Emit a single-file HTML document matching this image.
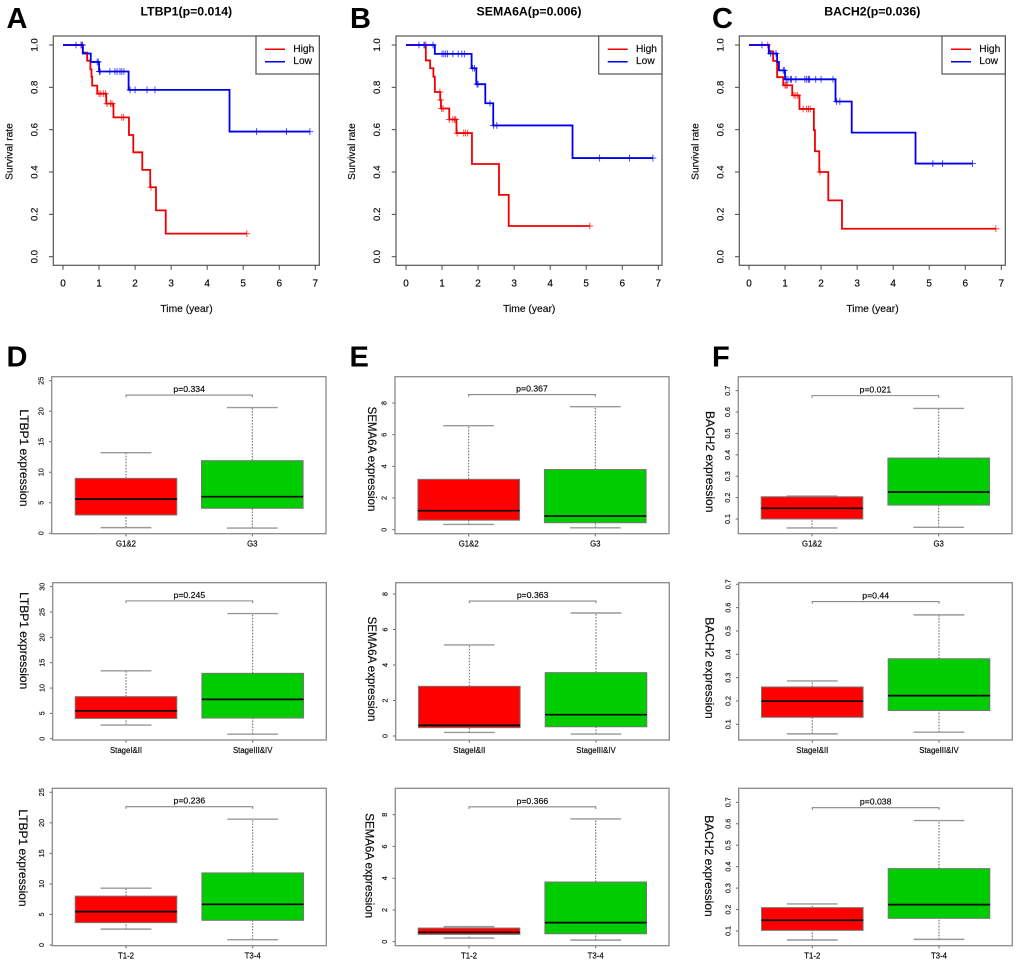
<!DOCTYPE html>
<html lang="en">
<head>
<meta charset="utf-8">
<title>Survival and expression panels</title>
<style>
html,body{margin:0;padding:0;background:#fff;}
svg{display:block;font-family:"Liberation Sans",Arial,sans-serif;filter:blur(.35px);}
.letter{font-size:29px;font-weight:bold;fill:#000;}
.km-title{font-size:12.3px;font-weight:bold;fill:#000;text-anchor:middle;dominant-baseline:central;}
</style>
</head>
<body>
<svg id="figure" xmlns="http://www.w3.org/2000/svg" width="1020" height="966" viewBox="0 0 1020 966">
  <rect width="1020" height="966" fill="#fff"/>
  <text class="letter" x="6.5" y="28">A</text>
  <text class="letter" x="350" y="28">B</text>
  <text class="letter" x="712" y="28">C</text>
  <text class="letter" x="6.5" y="366.5">D</text>
  <text class="letter" x="349.5" y="366.5">E</text>
  <text class="letter" x="712" y="366.5">F</text>
  <text class="km-title" x="186.3" y="11.7">LTBP1(p=0.014)</text>
  <text class="km-title" x="529" y="11.7">SEMA6A(p=0.006)</text>
  <text class="km-title" x="872.3" y="11.7">BACH2(p=0.036)</text>
  <g id="panel-a"></g>
  <g id="panel-b"></g>
  <g id="panel-c"></g>
  <g id="panel-d1"></g>
  <g id="panel-e1"></g>
  <g id="panel-f1"></g>
  <g id="panel-d2"></g>
  <g id="panel-e2"></g>
  <g id="panel-f2"></g>
  <g id="panel-d3"></g>
  <g id="panel-e3"></g>
  <g id="panel-f3"></g>
</svg>
<script>
// ---------- Survival data ----------
const timeTicks = [0, 1, 2, 3, 4, 5, 6, 7];
const survivalTicks = ['0.0', '0.2', '0.4', '0.6', '0.8', '1.0'];
const legendLabels = ['High', 'Low'];

const ltbp1HighTimes = [0.55, 0.67, 0.76, 0.79, 0.81, 0.95, 1.2, 1.4, 1.83, 1.95, 2.2, 2.42, 2.58, 2.85];
const ltbp1HighSurvival = [0.964, 0.926, 0.885, 0.85, 0.808, 0.77, 0.723, 0.658, 0.575, 0.493, 0.41, 0.328, 0.219, 0.109];
const ltbp1HighCensored = [0.52, 1.0, 1.05, 1.12, 1.18, 1.22, 1.32, 1.36, 1.63, 1.68, 2.44, 5.1];
const ltbp1LowTimes = [0.55, 0.77, 1.0, 1.82, 4.62];
const ltbp1LowSurvival = [0.96, 0.92, 0.875, 0.788, 0.591];
const ltbp1LowCensored = [0.36, 0.5, 0.54, 0.95, 0.98, 1.01, 1.03, 1.3, 1.44, 1.5, 1.58, 1.63, 1.69, 1.86, 2.0, 2.33, 2.55, 5.37, 6.2, 6.85];

const sema6aHighTimes = [0.55, 0.67, 0.76, 0.8, 0.95, 0.97, 1.2, 1.4, 1.83, 2.58, 2.85];
const sema6aHighSurvival = [0.927, 0.89, 0.85, 0.778, 0.74, 0.7, 0.648, 0.584, 0.438, 0.292, 0.145];
const sema6aHighCensored = [0.51, 0.94, 0.96, 0.99, 1.03, 1.2, 1.3, 1.35, 1.38, 1.42, 1.6, 1.65, 1.71, 5.1];
const sema6aLowTimes = [0.8, 1.82, 1.95, 2.2, 2.42, 4.62];
const sema6aLowSurvival = [0.958, 0.89, 0.815, 0.725, 0.62, 0.466];
const sema6aLowCensored = [0.36, 0.5, 0.55, 0.75, 1.0, 1.05, 1.1, 1.15, 1.3, 1.45, 1.55, 1.62, 1.85, 1.9, 1.97, 2.0, 2.33, 2.43, 2.52, 5.37, 6.2, 6.85];

const bach2HighTimes = [0.55, 0.67, 0.78, 0.95, 1.2, 1.4, 1.8, 1.83, 1.95, 2.2, 2.58];
const bach2HighSurvival = [0.97, 0.925, 0.848, 0.81, 0.762, 0.698, 0.598, 0.498, 0.4, 0.266, 0.132];
const bach2HighCensored = [0.52, 1.0, 1.03, 1.06, 1.25, 1.3, 1.35, 1.5, 1.6, 1.65, 1.7, 1.97, 6.85];
const bach2LowTimes = [0.55, 0.78, 0.83, 1.0, 2.4, 2.85, 4.62];
const bach2LowSurvival = [0.96, 0.92, 0.88, 0.838, 0.733, 0.586, 0.44];
const bach2LowCensored = [0.36, 0.6, 0.75, 0.95, 0.98, 1.03, 1.08, 1.15, 1.18, 1.3, 1.55, 1.6, 1.65, 1.68, 1.85, 2.0, 2.33, 2.43, 2.52, 5.1, 5.37, 6.2];

// ---------- Expression data: [lower whisker, Q1, median, Q3, upper whisker] ----------
const gradeCategories = ['G1&2', 'G3'];
const stageCategories = ['StageI&II', 'StageIII&IV'];
const tCategories = ['T1-2', 'T3-4'];
const ltbp1Ticks25 = ['0', '5', '10', '15', '20', '25'];
const ltbp1Ticks30 = ['0', '5', '10', '15', '20', '25', '30'];
const sema6aTicks = ['0', '2', '4', '6', '8'];
const bach2Ticks = ['0.1', '0.2', '0.3', '0.4', '0.5', '0.6', '0.7'];

const ltbp1GradeLow = [0.93, 3.0, 5.6, 9.0, 13.2];
const ltbp1GradeHigh = [0.85, 4.1, 6.0, 11.9, 20.6];
const sema6aGradeLow = [0.33, 0.6, 1.2, 3.18, 6.57];
const sema6aGradeHigh = [0.12, 0.44, 0.86, 3.8, 7.77];
const bach2GradeLow = [0.058, 0.1, 0.15, 0.204, 0.207];
const bach2GradeHigh = [0.061, 0.165, 0.226, 0.385, 0.617];

const ltbp1StageLow = [2.7, 4.0, 5.5, 8.3, 13.4];
const ltbp1StageHigh = [0.9, 4.08, 7.76, 12.9, 24.7];
const sema6aStageLow = [0.2, 0.47, 0.6, 2.8, 5.13];
const sema6aStageHigh = [0.11, 0.52, 1.2, 3.57, 6.93];
const bach2StageLow = [0.059, 0.13, 0.199, 0.26, 0.286];
const bach2StageHigh = [0.066, 0.159, 0.223, 0.381, 0.569];

const ltbp1TLow = [2.6, 3.66, 5.46, 8.0, 9.3];
const ltbp1THigh = [0.87, 4.04, 6.66, 11.8, 20.6];
const sema6aTLow = [0.23, 0.46, 0.59, 0.86, 0.95];
const sema6aTHigh = [0.1, 0.5, 1.2, 3.76, 7.73];
const bach2TLow = [0.058, 0.103, 0.15, 0.209, 0.226];
const bach2THigh = [0.061, 0.159, 0.223, 0.391, 0.615];

const NS = 'http://www.w3.org/2000/svg';
function make(tag, parent, attrs, text) {
  const n = document.createElementNS(NS, tag);
  for (const k in attrs) n.setAttribute(k, attrs[k]);
  if (text !== undefined) {
    n.textContent = text;
    n.setAttribute('stroke', '#000');
    n.setAttribute('stroke-width', '0.18');
  }
  parent.appendChild(n);
  return n;
}
function linear(v0, p0, v1, p1) {
  return v => p0 + (Number(v) - v0) * (p1 - p0) / (v1 - v0);
}
function survivalAt(t, times, surv) {
  let s = 1;
  for (let i = 0; i < times.length; i++) if (t >= times[i]) s = surv[i];
  return s;
}

function drawCurve(g, x, y, times, surv, censored, color, lastTime) {
  let d = 'M' + x(0) + ' ' + y(1);
  times.forEach((t, i) => { d += 'H' + x(t) + 'V' + y(surv[i]); });
  d += 'H' + x(lastTime);
  const line = make('path', g, { d: d, fill: 'none', stroke: color, 'stroke-width': 1.8 });
  
  
  censored.forEach(t => {
    const s = survivalAt(t, times, surv);
    const px = x(t), py = y(s);
    const mark = make('path', g, {
      d: 'M' + (px - 3.4) + ' ' + py + 'H' + (px + 3.4) + 'M' + px + ' ' + (py - 3.4) + 'V' + (py + 3.4),
      fill: 'none', stroke: color, 'stroke-width': 1, 'stroke-opacity': 0.7
    });
    
    
  });
}

function drawSurvival(id, left, x0Pos, hi, lo) {
  const g = document.getElementById(id);
  const frameL = left, frameR = left + 266, frameT = 36, frameB = 265.3;
  const x = linear(0, x0Pos, 7, x0Pos + 252.3);
  const y = linear(0, 256.7, 1, 45);
  const ink = '#444';

  timeTicks.forEach(t => {
    const tick = make('line', g, { x1: x(t), x2: x(t), y1: frameB, y2: frameB + 4.5, stroke: ink, 'stroke-width': 1 });
    
    
    const label = make('text', g, { x: x(t), y: 284, 'text-anchor': 'middle', 'dominant-baseline': 'central', 'font-size': 10, fill: '#111' }, t);
    
    
  });
  survivalTicks.forEach(v => {
    const tick = make('line', g, { x1: frameL - 4.3, x2: frameL, y1: y(v), y2: y(v), stroke: ink, 'stroke-width': 1 });
    
    
    const lx = frameL - 18.3;
    const label = make('text', g, { x: lx, y: y(v), transform: 'rotate(-90 ' + lx + ' ' + y(v) + ')', 'text-anchor': 'middle', 'dominant-baseline': 'central', 'font-size': 9.6, fill: '#111' }, v);
    
    
  });

  const xTitle = make('text', g, { x: (frameL + frameR) / 2 + 0.2, y: 309.5, 'text-anchor': 'middle', 'dominant-baseline': 'central', 'font-size': 10.3, fill: '#111' }, 'Time (year)');
  
  
  const ytx = frameL - 43.3;
  const yTitle = make('text', g, { x: ytx, y: 151.5, transform: 'rotate(-90 ' + ytx + ' 151.5)', 'text-anchor': 'middle', 'dominant-baseline': 'central', 'font-size': 10.2, fill: '#111' }, 'Survival rate');
  
  

  drawCurve(g, x, y, hi.times, hi.surv, hi.censored, '#f00000', hi.end);
  drawCurve(g, x, y, lo.times, lo.surv, lo.censored, '#0000f0', lo.end);

  const frame = make('rect', g, { x: frameL, y: frameT, width: frameR - frameL, height: frameB - frameT, fill: 'none', stroke: '#555', 'stroke-width': 1.2 });
  
  

  const legendX = frameR - 63.3;
  const legend = make('rect', g, { x: legendX, y: frameT, width: 63.3, height: 38, fill: '#fff', stroke: '#555', 'stroke-width': 1.2 });
  
  
  const colors = ['#f00000', '#0000f0'];
  legendLabels.forEach((name, i) => {
    const ly = 49.3 + i * 12.4;
    const key = make('line', g, { x1: legendX + 9, x2: legendX + 29, y1: ly, y2: ly, stroke: colors[i], 'stroke-width': 1.5 });
    
    
    const label = make('text', g, { x: legendX + 37.3, y: ly, 'dominant-baseline': 'central', 'font-size': 10.2, fill: '#111' }, name);
    
    
  });
}

drawSurvival('panel-a', 53.3, 63,
  { times: ltbp1HighTimes, surv: ltbp1HighSurvival, censored: ltbp1HighCensored, end: 5.1 },
  { times: ltbp1LowTimes, surv: ltbp1LowSurvival, censored: ltbp1LowCensored, end: 6.85 });
drawSurvival('panel-b', 396, 406,
  { times: sema6aHighTimes, surv: sema6aHighSurvival, censored: sema6aHighCensored, end: 5.1 },
  { times: sema6aLowTimes, surv: sema6aLowSurvival, censored: sema6aLowCensored, end: 6.85 });
drawSurvival('panel-c', 739.3, 749,
  { times: bach2HighTimes, surv: bach2HighSurvival, censored: bach2HighCensored, end: 6.85 },
  { times: bach2LowTimes, surv: bach2LowSurvival, censored: bach2LowCensored, end: 6.2 });

function drawBox(g, gx, y, stats, color) {
  const halfBox = 50.8, halfCap = 25.4;
  const whisker = make('path', g, {
    d: 'M' + gx + ' ' + y(stats[0]) + 'V' + y(stats[1]) + 'M' + gx + ' ' + y(stats[3]) + 'V' + y(stats[4]),
    fill: 'none', stroke: '#666', 'stroke-width': 1, 'stroke-dasharray': '1.6 1.4'
  });
  
  
  const caps = make('path', g, {
    d: 'M' + (gx - halfCap) + ' ' + y(stats[0]) + 'H' + (gx + halfCap) + 'M' + (gx - halfCap) + ' ' + y(stats[4]) + 'H' + (gx + halfCap),
    fill: 'none', stroke: '#999', 'stroke-width': 1.4
  });
  
  
  const box = make('rect', g, {
    x: gx - halfBox, y: y(stats[3]), width: halfBox * 2, height: y(stats[1]) - y(stats[3]),
    fill: color, stroke: '#777', 'stroke-width': 1
  });
  
  
  const median = make('line', g, { x1: gx - halfBox, x2: gx + halfBox, y1: y(stats[2]), y2: y(stats[2]), stroke: '#000', 'stroke-width': 1.7 });
  
  
}

function drawExpression(cfg) {
  const g = document.getElementById(cfg.id);
  const y = linear(cfg.v0, cfg.p0, cfg.v1, cfg.p1);
  const gx1 = cfg.g1, gx2 = cfg.g2;
  const ink = '#666';

  cfg.ticks.forEach(v => {
    const tick = make('line', g, { x1: cfg.left - 2.7, x2: cfg.left, y1: y(v), y2: y(v), stroke: ink, 'stroke-width': 1 });
    
    
    const lx = cfg.left - 10.8;
    const label = make('text', g, { x: lx, y: y(v), transform: 'rotate(-90 ' + lx + ' ' + y(v) + ')', 'text-anchor': 'middle', 'dominant-baseline': 'central', 'font-size': 7.2, fill: '#222' }, v);
    
    
  });

  const yTitle = make('text', g, { x: cfg.titleX, y: cfg.titleY, transform: 'rotate(90 ' + cfg.titleX + ' ' + cfg.titleY + ')', 'text-anchor': 'middle', 'dominant-baseline': 'central', 'font-size': cfg.titleSize, fill: '#111' }, cfg.title);
  
  

  [gx1, gx2].forEach((gx, i) => {
    const tick = make('line', g, { x1: gx, x2: gx, y1: cfg.bottom, y2: cfg.bottom + 2.7, stroke: ink, 'stroke-width': 1 });
    
    
    const label = make('text', g, { x: gx, y: cfg.bottom + 10.3, 'text-anchor': 'middle', 'dominant-baseline': 'central', 'font-size': 7.8, fill: '#111' }, cfg.categories[i]);
    
    
  });

  drawBox(g, gx1, y, cfg.low, '#ff0000');
  drawBox(g, gx2, y, cfg.high, '#00cd00');

  const by = y(cfg.bracket);
  const bracket = make('path', g, { d: 'M' + gx1 + ' ' + (by + 2.2) + 'V' + by + 'H' + gx2 + 'V' + (by + 2.2), fill: 'none', stroke: '#888', 'stroke-width': 1.1 });
  
  
  const pLabel = make('text', g, { x: (gx1 + gx2) / 2, y: by - 6, 'text-anchor': 'middle', 'dominant-baseline': 'central', 'font-size': 8.7, fill: '#111' }, cfg.p);
  
  

  const frame = make('rect', g, { x: cfg.left, y: cfg.top, width: cfg.right - cfg.left, height: cfg.bottom - cfg.top, fill: 'none', stroke: '#8a8a8a', 'stroke-width': 1.3 });
  
  
}

drawExpression({ id: 'panel-d1', left: 51.7, right: 326, top: 376.7, bottom: 533.7, v0: 0, p0: 533.3, v1: 25, p1: 380.7, g1: 126, g2: 252.3,
  ticks: ltbp1Ticks25, categories: gradeCategories, low: ltbp1GradeLow, high: ltbp1GradeHigh, bracket: 22.65, p: 'p=0.334',
  title: 'LTBP1 expression', titleX: 24, titleY: 458, titleSize: 12 });
drawExpression({ id: 'panel-e1', left: 395, right: 669, top: 376.7, bottom: 533.7, v0: 0, p0: 529.7, v1: 8, p1: 403, g1: 468.7, g2: 595.3,
  ticks: sema6aTicks, categories: gradeCategories, low: sema6aGradeLow, high: sema6aGradeHigh, bracket: 8.53, p: 'p=0.367',
  title: 'SEMA6A expression', titleX: 371, titleY: 459, titleSize: 11.5 });
drawExpression({ id: 'panel-f1', left: 738.3, right: 1012, top: 376.7, bottom: 533.7, v0: 0.1, p0: 519, v1: 0.7, p1: 390.7, g1: 812, g2: 938.7,
  ticks: bach2Ticks, categories: gradeCategories, low: bach2GradeLow, high: bach2GradeHigh, bracket: 0.677, p: 'p=0.021',
  title: 'BACH2 expression', titleX: 710, titleY: 461.7, titleSize: 12 });

drawExpression({ id: 'panel-d2', left: 52.7, right: 326.3, top: 582.7, bottom: 740, v0: 0, p0: 738.7, v1: 30, p1: 586.7, g1: 126, g2: 252.7,
  ticks: ltbp1Ticks30, categories: stageCategories, low: ltbp1StageLow, high: ltbp1StageHigh, bracket: 27.2, p: 'p=0.245',
  title: 'LTBP1 expression', titleX: 24, titleY: 640.7, titleSize: 12 });
drawExpression({ id: 'panel-e2', left: 395.7, right: 669.3, top: 582.7, bottom: 740, v0: 0, p0: 736, v1: 8, p1: 594, g1: 469.3, g2: 596,
  ticks: sema6aTicks, categories: stageCategories, low: sema6aStageLow, high: sema6aStageHigh, bracket: 7.6, p: 'p=0.363',
  title: 'SEMA6A expression', titleX: 371, titleY: 669, titleSize: 11.5 });
drawExpression({ id: 'panel-f2', left: 738.7, right: 1012.3, top: 582.7, bottom: 740, v0: 0.1, p0: 724.3, v1: 0.7, p1: 584.3, g1: 812.3, g2: 939,
  ticks: bach2Ticks, categories: stageCategories, low: bach2StageLow, high: bach2StageHigh, bracket: 0.626, p: 'p=0.44',
  title: 'BACH2 expression', titleX: 709.3, titleY: 668, titleSize: 12 });

drawExpression({ id: 'panel-d3', left: 52.3, right: 326.3, top: 788.3, bottom: 945.7, v0: 0, p0: 945, v1: 25, p1: 792.3, g1: 126, g2: 252.7,
  ticks: ltbp1Ticks25, categories: tCategories, low: ltbp1TLow, high: ltbp1THigh, bracket: 22.65, p: 'p=0.236',
  title: 'LTBP1 expression', titleX: 23, titleY: 858, titleSize: 12 });
drawExpression({ id: 'panel-e3', left: 395.3, right: 669, top: 788.3, bottom: 945.7, v0: 0, p0: 941.7, v1: 8, p1: 814.7, g1: 469, g2: 595.7,
  ticks: sema6aTicks, categories: tCategories, low: sema6aTLow, high: sema6aTHigh, bracket: 8.5, p: 'p=0.366',
  title: 'SEMA6A expression', titleX: 368.3, titleY: 865.7, titleSize: 11.5 });
drawExpression({ id: 'panel-f3', left: 738.7, right: 1012.3, top: 788.3, bottom: 945.7, v0: 0.1, p0: 931, v1: 0.7, p1: 802.3, g1: 812.3, g2: 939,
  ticks: bach2Ticks, categories: tCategories, low: bach2TLow, high: bach2THigh, bracket: 0.675, p: 'p=0.038',
  title: 'BACH2 expression', titleX: 709, titleY: 866, titleSize: 12 });
</script>
</body>
</html>
